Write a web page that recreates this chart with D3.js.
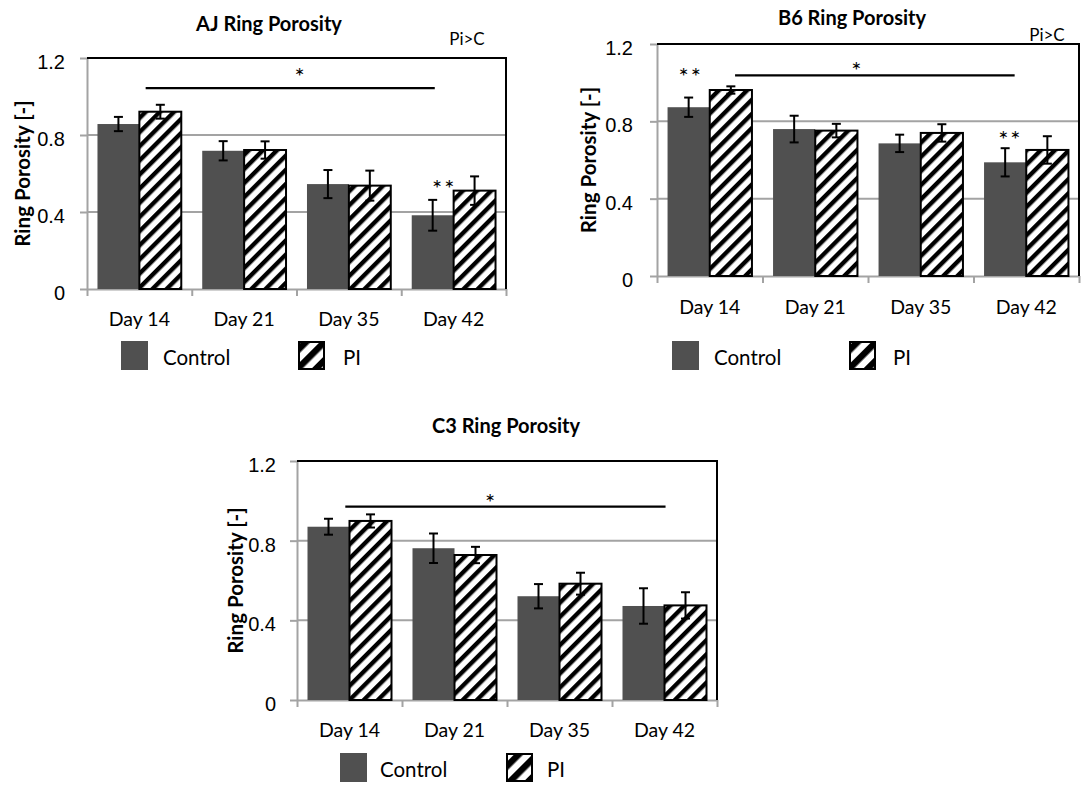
<!DOCTYPE html>
<html>
<head>
<meta charset="utf-8">
<script src="https://cdn.jsdelivr.net/npm/d3@7"></script>
<style>
  html, body { margin: 0; padding: 0; background: #fff; }
  svg { display: block; font-family: Lato, "Open Sans", sans-serif; }
</style>
</head>
<body>
<svg id="fig" width="1081" height="785"></svg>
<script>
// ---- shared categories, series and axis ticks ----
const categories = ["Day 14", "Day 21", "Day 35", "Day 42"];
const seriesNames = ["Control", "PI"];
const yTicks = [0, 0.4, 0.8, 1.2];
const yTickLabels = ["0", "0.4", "0.8", "1.2"];

// ---- AJ ring porosity (mean, error) ----
const ajControl    = [0.857, 0.718, 0.545, 0.383];
const ajControlErr = [0.037, 0.050, 0.073, 0.080];
const ajPI         = [0.921, 0.722, 0.537, 0.511];
const ajPIErr      = [0.036, 0.045, 0.078, 0.074];

// ---- B6 ring porosity ----
const b6Control    = [0.873, 0.760, 0.686, 0.588];
const b6ControlErr = [0.050, 0.069, 0.045, 0.073];
const b6PI         = [0.962, 0.752, 0.740, 0.652];
const b6PIErr      = [0.019, 0.035, 0.045, 0.071];

// ---- C3 ring porosity ----
const c3Control    = [0.870, 0.762, 0.521, 0.472];
const c3ControlErr = [0.040, 0.074, 0.061, 0.089];
const c3PI         = [0.899, 0.728, 0.584, 0.475];
const c3PIErr      = [0.033, 0.041, 0.055, 0.066];

// ---- significance annotations (category index units, porosity units) ----
const ajSpan = { from: 0.06, to: 2.82, level: 1.043, starAt: 1.53, starLevel: 1.13 };
const b6Span = { from: 0.24, to: 2.89, level: 1.038, starAt: 1.39, starLevel: 1.09 };
const c3Span = { from: -0.04, to: 3.01, level: 0.971, starAt: 1.34, starLevel: 1.015 };
const ajDouble = [{ at: 2.90, level: 0.55 }];
const b6Double = [{ at: -0.19, level: 1.057 }, { at: 2.84, level: 0.73 }];
const c3Double = [];

const CONTROL_FILL = "#505050";
const GRID = "#a3a3a3";

const svg = d3.select("#fig");
const defs = svg.append("defs");

// diagonal "/" hatching used for the PI series
function hatch(id, period, stripe) {
  const p = defs.append("pattern")
    .attr("id", id)
    .attr("patternUnits", "userSpaceOnUse")
    .attr("width", period).attr("height", period)
    .attr("patternTransform", "rotate(45)");
  p.append("rect").attr("width", period).attr("height", period).attr("fill", "#fff");
  p.append("rect").attr("width", stripe).attr("height", period).attr("fill", "#000");
}
hatch("hatchBar", 10, 4.4);
hatch("hatchKey", 13, 6.5);

function drawChart(cfg) {
  const g = svg.append("g");
  const x = d3.scaleBand().domain(categories)
    .range([cfg.left, cfg.right]).paddingInner(0.2).paddingOuter(0.1);
  const xs = d3.scaleBand().domain(seriesNames).range([0, x.bandwidth()]);
  const xi = d3.scaleLinear().domain([-0.5, categories.length - 0.5]).range([cfg.left, cfg.right]);
  const y = d3.scaleLinear().domain([0, 1.2]).range([cfg.bottom, cfg.top]);

  // horizontal gridlines
  g.append("g").selectAll("line")
    .data(yTicks.filter(t => t > 0 && t < 1.2)).join("line")
    .attr("x1", cfg.left).attr("x2", cfg.right)
    .attr("y1", d => y(d)).attr("y2", d => y(d))
    .attr("stroke", GRID).attr("stroke-width", 2);

  // y axis
  const yAxis = g.append("g").attr("transform", `translate(${cfg.left},0)`)
    .call(d3.axisLeft(y).tickValues(yTicks).tickSize(7).tickSizeOuter(0)
      .tickPadding(cfg.tickPad).tickFormat((d, i) => yTickLabels[i]));
  yAxis.select(".domain").attr("stroke", GRID).attr("stroke-width", 2);
  yAxis.selectAll(".tick line").attr("stroke", GRID).attr("stroke-width", 2);
  yAxis.selectAll(".tick text").attr("font-size", 20).attr("fill", "#000").attr("dy", "0.53em");

  // x axis: boundary ticks between categories
  const xb = g.append("g").attr("transform", `translate(0,${cfg.bottom})`)
    .call(d3.axisBottom(xi).tickValues(d3.range(-0.5, categories.length, 1))
      .tickSize(7).tickSizeOuter(0).tickFormat(""));
  xb.select(".domain").attr("stroke", GRID).attr("stroke-width", 2);
  xb.selectAll(".tick line").attr("stroke", GRID).attr("stroke-width", 2);

  // category labels
  g.append("g").selectAll("text").data(categories).join("text")
    .attr("x", d => x(d) + x.bandwidth() / 2)
    .attr("y", cfg.catBaseline)
    .attr("text-anchor", "middle").attr("font-size", 19.5).attr("fill", "#000")
    .text(d => d);

  // bars
  const rows = categories.map((c, i) => [
    { cat: c, s: "Control", v: cfg.control[i], e: cfg.controlErr[i] },
    { cat: c, s: "PI", v: cfg.pi[i], e: cfg.piErr[i] }
  ]).flat();

  g.append("g").selectAll("rect").data(rows).join("rect")
    .attr("x", d => x(d.cat) + xs(d.s))
    .attr("y", d => y(d.v))
    .attr("width", xs.bandwidth())
    .attr("height", d => y(0) - y(d.v))
    .attr("fill", d => d.s === "Control" ? CONTROL_FILL : "url(#hatchBar)")
    .attr("stroke", d => d.s === "Control" ? "none" : "#000")
    .attr("stroke-width", 2);

  // error bars
  const eb = g.append("g").attr("stroke", "#000").attr("stroke-width", 2);
  const cx = d => x(d.cat) + xs(d.s) + xs.bandwidth() / 2;
  eb.selectAll("line.v").data(rows).join("line").attr("class", "v")
    .attr("x1", cx).attr("x2", cx)
    .attr("y1", d => y(d.v - d.e)).attr("y2", d => y(d.v + d.e));
  [-1, 1].forEach(sign => {
    eb.selectAll(`line.c${sign}`).data(rows).join("line").attr("class", `c${sign}`)
      .attr("x1", d => cx(d) - 4.5).attr("x2", d => cx(d) + 4.5)
      .attr("y1", d => y(d.v + sign * d.e)).attr("y2", d => y(d.v + sign * d.e));
  });

  // plot frame (top and right)
  g.append("path")
    .attr("d", `M${cfg.left},${cfg.top}H${cfg.right}V${cfg.bottom}`)
    .attr("fill", "none").attr("stroke", "#000").attr("stroke-width", 2);

  // significance bar with star
  const sp = cfg.span;
  g.append("line")
    .attr("x1", xi(sp.from)).attr("x2", xi(sp.to))
    .attr("y1", y(sp.level)).attr("y2", y(sp.level))
    .attr("stroke", "#000").attr("stroke-width", 2.2);
  g.append("text")
    .attr("x", xi(sp.starAt)).attr("y", y(sp.starLevel) + 13.5)
    .attr("text-anchor", "middle").attr("font-size", 24).attr("fill", "#000")
    .text("*");

  // double-star markers
  g.append("g").selectAll("text").data(cfg.doubles).join("text")
    .attr("x", d => xi(d.at) + 1)
    .attr("y", d => y(d.level) + 13.5)
    .attr("text-anchor", "middle").attr("font-size", 24).attr("fill", "#000")
    .attr("letter-spacing", 2)
    .text("**");

  // title
  g.append("text")
    .attr("x", cfg.titleX).attr("y", cfg.titleBaseline)
    .attr("text-anchor", "middle").attr("font-size", 20).attr("font-weight", 700)
    .attr("fill", "#000").text(cfg.title);

  // y axis title
  g.append("text")
    .attr("transform", `translate(${cfg.yLabelX},${(cfg.top + cfg.bottom) / 2}) rotate(-90)`)
    .attr("text-anchor", "middle").attr("dominant-baseline", "central")
    .attr("font-size", 20.5).attr("font-weight", 700).attr("fill", "#000")
    .text("Ring Porosity [-]");

  // note above the plot
  if (cfg.note) {
    g.append("text")
      .attr("x", cfg.note.x).attr("y", cfg.note.baseline)
      .attr("text-anchor", "middle").attr("font-size", 17).attr("fill", "#000")
      .text(cfg.note.text);
  }

  // legend
  const lg = g.append("g");
  lg.append("rect").attr("x", cfg.key.ctrlX).attr("y", cfg.key.top)
    .attr("width", 27).attr("height", 29).attr("fill", CONTROL_FILL);
  lg.append("text").attr("x", cfg.key.ctrlTextX).attr("y", cfg.key.baseline)
    .attr("font-size", 20.5).attr("fill", "#000").text(seriesNames[0]);
  lg.append("rect").attr("x", cfg.key.piX + 1).attr("y", cfg.key.top + 1)
    .attr("width", 25).attr("height", 27).attr("fill", "url(#hatchKey)")
    .attr("stroke", "#000").attr("stroke-width", 2);
  lg.append("text").attr("x", cfg.key.piTextX).attr("y", cfg.key.baseline)
    .attr("font-size", 20.5).attr("fill", "#000").text(seriesNames[1]);
}

drawChart({
  title: "AJ Ring Porosity",
  left: 87, right: 506, top: 58, bottom: 289, tickPad: 15,
  control: ajControl, controlErr: ajControlErr, pi: ajPI, piErr: ajPIErr,
  span: ajSpan, doubles: ajDouble,
  titleX: 269, titleBaseline: 31, yLabelX: 22, catBaseline: 326,
  note: { text: "Pi>C", x: 467, baseline: 45 },
  key: { top: 341, baseline: 365, ctrlX: 121, ctrlTextX: 163, piX: 298, piTextX: 343 }
});

drawChart({
  title: "B6 Ring Porosity",
  left: 657, right: 1079, top: 44, bottom: 276, tickPad: 17,
  control: b6Control, controlErr: b6ControlErr, pi: b6PI, piErr: b6PIErr,
  span: b6Span, doubles: b6Double,
  titleX: 852, titleBaseline: 25, yLabelX: 588, catBaseline: 314,
  note: { text: "Pi>C", x: 1047, baseline: 41 },
  key: { top: 341, baseline: 365, ctrlX: 672, ctrlTextX: 714, piX: 849, piTextX: 893 }
});

drawChart({
  title: "C3 Ring Porosity",
  left: 297, right: 717, top: 461, bottom: 700, tickPad: 14,
  control: c3Control, controlErr: c3ControlErr, pi: c3PI, piErr: c3PIErr,
  span: c3Span, doubles: c3Double,
  titleX: 506, titleBaseline: 433, yLabelX: 235, catBaseline: 737,
  note: null,
  key: { top: 753, baseline: 777, ctrlX: 340, ctrlTextX: 380, piX: 506, piTextX: 547 }
});
</script>
</body>
</html>
